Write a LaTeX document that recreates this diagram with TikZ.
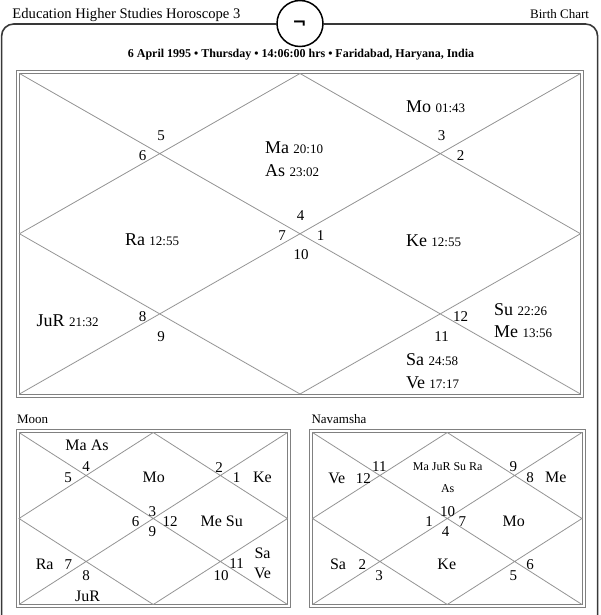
\documentclass[tikz,border=0pt]{standalone}
\usepackage{fontspec}
\setmainfont{Liberation Serif}
\newfontfamily\symfont{DejaVu Sans}
\newcommand\pl[2]{{\fontsize{18}{20}\selectfont #1\ }{\fontsize{13}{15}\selectfont #2}}
\begin{document}
\begin{tikzpicture}[x=1pt,y=-1pt,
  every node/.style={inner sep=0pt,outer sep=0pt,text=black},
  frameline/.style={draw=black!78,line width=1.6pt},
  border/.style={draw=black!50,line width=0.9pt},
  gridline/.style={draw=black!42,line width=0.8pt},
  planet/.style={anchor=west,text height=12pt,text depth=0pt},
  num/.style={font=\fontsize{15}{17}\selectfont,text height=10pt,text depth=0pt},
  sname/.style={font=\fontsize{16}{18}\selectfont,text height=10.5pt,text depth=0pt},
  tiny/.style={font=\fontsize{12}{14}\selectfont,text height=8pt,text depth=0pt},
  caption/.style={font=\fontsize{13}{15}\selectfont,anchor=base west}]
\clip (0,0) rectangle (600,615);
\fill[white] (0,0) rectangle (600,615);
% outer frame
\draw[frameline,rounded corners=12pt] (1.6,630) -- (1.6,24) -- (276.5,24);
\draw[frameline,rounded corners=12pt] (323.5,24) -- (597.6,24) -- (597.6,630);
\draw[draw=black,line width=1.5pt] (300,23.5) circle (23);
\node[font=\symfont\bfseries\fontsize{17}{17}\selectfont] (sym) at (299.5,25) {¬};
% header texts
\node[font=\fontsize{14.6}{17}\selectfont,anchor=base west] (title) at (12.5,19) {Education Higher Studies Horoscope 3};
\node[font=\fontsize{13}{15}\selectfont,anchor=base east] (bc) at (589,19) {Birth Chart};
\node[font=\bfseries\fontsize{12}{14}\selectfont,anchor=base] (date) at (301,58) {6 April 1995 • Thursday • 14:06:00 hrs • Faridabad, Haryana, India};
% ===== main chart =====
\draw[border] (16.5,70.5) rectangle (583.5,397);
\draw[border] (19.5,73.5) rectangle (580.5,394);
\draw[gridline] (19.5,73.5) -- (580.5,394) (19.5,394) -- (580.5,73.5)
  (300,73.5) -- (580.5,233.75) -- (300,394) -- (19.5,233.75) -- cycle;
\node[num] (m5) at (161,135) {5};
\node[num] (m6) at (142.7,155.7) {6};
\node[num] (m3) at (441.7,135) {3};
\node[num] (m2) at (460.7,155.7) {2};
\node[num] (m4) at (300.5,215) {4};
\node[num] (m7) at (282,235.5) {7};
\node[num] (m1) at (320.5,235.5) {1};
\node[num] (m10) at (301,254.5) {10};
\node[num] (m8) at (142.7,316) {8};
\node[num] (m9) at (161,336) {9};
\node[num] (m12) at (460.7,316.5) {12};
\node[num] (m11) at (441.7,336) {11};
\node[planet] (pma) at (265,147.5) {\pl{Ma}{20:10}};
\node[planet] (pas) at (265,170) {\pl{As}{23:02}};
\node[planet] (pmo) at (406,106.5) {\pl{Mo}{01:43}};
\node[planet] (pra) at (125,239.5) {\pl{Ra}{12:55}};
\node[planet] (pke) at (406,240) {\pl{Ke}{12:55}};
\node[planet] (pju) at (36.5,320.5) {\pl{JuR}{21:32}};
\node[planet] (psu) at (494,309) {\pl{Su}{22:26}};
\node[planet] (pme) at (494,331) {\pl{Me}{13:56}};
\node[planet] (psa) at (406,359.5) {\pl{Sa}{24:58}};
\node[planet] (pve) at (406,382) {\pl{Ve}{17:17}};
% ===== Moon chart =====
\node[caption] (moonlbl) at (17,423.5) {Moon};
\draw[border] (16,429.5) rectangle (290.5,607.5);
\draw[border] (19,432.5) rectangle (287.5,604.5);
\draw[gridline] (19,432.5) -- (287.5,604.5) (19,604.5) -- (287.5,432.5)
  (153.25,432.5) -- (287.5,518.5) -- (153.25,604.5) -- (19,518.5) -- cycle;
\node[sname] (a1) at (87,445) {Ma As};
\node[num] (a2) at (86,466.7) {4};
\node[num] (a3) at (68,477.7) {5};
\node[sname] (a4) at (153.8,477.7) {Mo};
\node[num] (a5) at (219,467.7) {2};
\node[num] (a6) at (236.7,477.7) {1};
\node[sname] (a7) at (262.5,477.7) {Ke};
\node[num] (a8) at (152.3,511) {3};
\node[num] (a9) at (135.7,521.7) {6};
\node[num] (a10) at (170,521.7) {12};
\node[num] (a11) at (152.3,531.7) {9};
\node[sname] (a12) at (221.7,521.7) {Me Su};
\node[sname] (a13) at (262.5,553.3) {Sa};
\node[sname] (a14) at (262.5,573.3) {Ve};
\node[num] (a15) at (236.7,563.3) {11};
\node[num] (a16) at (221,575) {10};
\node[sname] (a17) at (44.7,564.3) {Ra};
\node[num] (a18) at (68.3,564.3) {7};
\node[num] (a19) at (86,575.7) {8};
\node[sname] (a20) at (87.5,596.7) {JuR};
% ===== Navamsha chart =====
\node[caption] (navlbl) at (311.5,423.5) {Navamsha};
\draw[border] (309.5,429.5) rectangle (585,607.5);
\draw[border] (312.5,432.5) rectangle (582,604.5);
\draw[gridline] (312.5,432.5) -- (582,604.5) (312.5,604.5) -- (582,432.5)
  (447.25,432.5) -- (582,518.5) -- (447.25,604.5) -- (312.5,518.5) -- cycle;
\node[tiny] (b1) at (447.7,466.7) {Ma JuR Su Ra};
\node[tiny] (b2) at (447.7,488.3) {As};
\node[num] (b3) at (379.3,466.7) {11};
\node[num] (b4) at (363.3,478.3) {12};
\node[sname] (b5) at (336.7,478.3) {Ve};
\node[num] (b6) at (513.3,466) {9};
\node[num] (b7) at (530,477.7) {8};
\node[sname] (b8) at (555.7,477.7) {Me};
\node[num] (b9) at (447.7,511) {10};
\node[num] (b10) at (429,521.7) {1};
\node[num] (b11) at (462.3,521.7) {7};
\node[num] (b12) at (445.7,531.7) {4};
\node[sname] (b13) at (513.8,521.7) {Mo};
\node[sname] (b14) at (338,564.3) {Sa};
\node[num] (b15) at (362.3,564.3) {2};
\node[num] (b16) at (379,575) {3};
\node[sname] (b17) at (446.8,564.3) {Ke};
\node[num] (b18) at (530,564.3) {6};
\node[num] (b19) at (513.3,575) {5};
\end{tikzpicture}
\end{document}
